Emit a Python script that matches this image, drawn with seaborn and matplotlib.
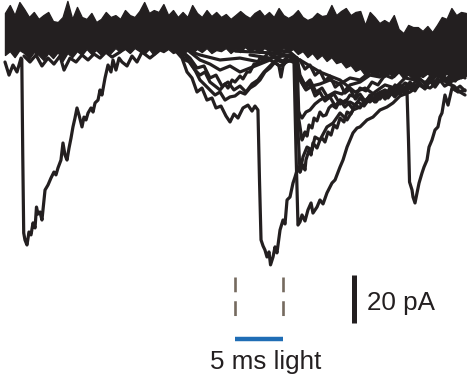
import numpy as np
import pandas as pd
import matplotlib
matplotlib.use("Agg")
import matplotlib.pyplot as plt
import seaborn as sns

# ---- data (time in ms, current in pA) ----
band_t = [i * 0.5 for i in range(97)]
band_upper = [9.2, 12.5, 8.3, 13.75, 10.8, 7.5, 9.6, 6.7, 8.3, 9.6,
              5.8, 5.4, 7.5, 14.2, 6.7, 11.7, 7.5, 6.7, 9.2, 5.4,
              6.7, 9.6, 7.5, 8.3, 6.7, 10.4, 8.3, 7.5, 10, 13.75,
              9.2, 10.4, 9.6, 12.9, 8.3, 10.4, 7.5, 9.6, 7.5, 12.5,
              9.2, 7.5, 10.4, 7.9, 9.6, 7.5, 8.75, 6.7, 8.3, 10,
              8.3, 7.1, 9.2, 10.4, 7.9, 9.6, 7.5, 11.25, 8.3, 7.1,
              8.3, 10.4, 7.5, 6.25, 7.1, 9.2, 7.9, 8.3, 12.5, 8.3,
              10, 11.25, 8.3, 9.6, 10, 4.2, 9.6, 7.5, 5, 6.25,
              5, 8.3, 2.5, 0.8, 4.2, 3.3, 3.3, 1.7, 3.75, 1.25,
              4.2, 7.5, 6.7, 11.25, 8.3, 9.6, 9.2]
band_lower = [-8.3, -6.7, -9.2, -6.25, -7.5, -10, -7.1, -8.3, -10.4, -7.5,
              -9.6, -7.1, -10.8, -7.5, -9.2, -6.7, -8.3, -5.8, -7.9, -6.25,
              -8.3, -6.7, -7.5, -5.4, -7.1, -5.8, -7.5, -5.4, -6.7, -7.9,
              -5.8, -8.3, -6.25, -7.1, -5.8, -7.5, -6.7, -8.3, -6.25, -7.5,
              -5.8, -7.1, -5.4, -7.5, -6.25, -6.7, -5.4, -7.5, -5.8, -7.1,
              -5, -6.7, -5.8, -7.5, -5.4, -6.7, -5.8, -7.5, -5.4, -7.1,
              -5.8, -7.9, -6.7, -9.2, -7.5, -10, -8.3, -10.8, -9.2, -11.7,
              -11, -13.5, -12.5, -15, -14, -16.7, -15, -17, -15.5, -17.5,
              -16, -17.5, -15.5, -18, -16.5, -18.5, -16.7, -17.5, -16, -18,
              -16.5, -18, -16, -18.3, -17, -18, -17]

trace_a_t = [0, 0.42, 0.83, 1.25, 1.67, 1.75, 1.85, 1.95, 2.08, 2.29, 2.5, 2.71, 2.92, 3.13,
             3.28, 3.44, 3.65, 3.85, 4.17, 4.48, 4.79, 5.1, 5.31, 5.52, 5.83, 6.04, 6.25,
             6.46, 6.67, 6.88, 7.08, 7.29, 7.5, 7.71, 8.02, 8.23, 8.44, 8.65, 8.96, 9.17,
             9.38, 9.69, 9.9, 10.1, 10.42, 10.73, 11.04, 11.25, 11.56, 11.88, 12.19, 12.71,
             13.23, 13.75, 14.27, 15.1, 16]
trace_a_i = [-11.25, -16.7, -12.5, -15.4, -9.6, -10, -50, -82.5, -85.4, -87.5, -82.1, -83.3,
             -78.3, -80.4, -71.7, -74.6, -73.75, -77.1, -64.6, -62.5, -59.6, -57.1, -58.3,
             -55.4, -52.1, -45, -50, -52.1, -47.1, -42.9, -38.3, -34.6, -30.4, -33.3, -38.3,
             -34.2, -35.4, -32.5, -30.4, -32.1, -28.3, -27.1, -22.9, -25, -17.9, -12.5, -15.4,
             -10.4, -14.6, -9.6, -11.25, -12.9, -8.75, -11.25, -7.1, -9.6, -6.7]

trace_c_t = [17.71, 18.44, 18.96, 19.48, 20.0, 20.52, 21.04, 21.56, 21.98, 22.5, 23.02, 23.44,
             23.85, 24.27, 24.79, 25.31, 25.73, 26.04, 26.35, 26.51, 26.67, 26.88, 27.08,
             27.29, 27.5, 27.66, 27.92, 28.13, 28.33, 28.65, 28.96, 29.17, 29.38, 29.69,
             30.0, 30.21, 30.52, 30.73, 31.04, 31.46, 31.98, 32.29, 32.81, 33.54, 34.17,
             34.9, 35.63, 36.25, 36.98, 37.71, 38.54, 39.58, 40.63, 41.67, 42.71, 43.75,
             44.79, 45.83, 46.88, 47.92]
trace_c_i = [-6.25, -9.6, -15.4, -17.9, -23.75, -22.1, -27.1, -26.25, -30.4, -29.6, -33.75,
             -36.25, -32.9, -34.6, -30.4, -29.2, -31.7, -29.6, -31.25, -60.4, -85.4, -87.9,
             -89.6, -92.5, -90.4, -95.8, -92.5, -88.3, -90.8, -81.25, -77.1, -78.75, -68.75,
             -67.5, -61.7, -59.2, -55, -57.1, -50.8, -46.7, -47.9, -42.5, -43.75, -38.3,
             -36.7, -32.5, -35.4, -31.25, -30, -27.1, -23.75, -20.8, -22.1, -17.9, -18.75,
             -15.4, -16.7, -12.9, -14.6, -12.1]

trace_d_t = [18.23, 20.31, 22.4, 24.48, 26.56, 28.13, 29.17, 30.1, 30.31, 30.52, 30.73, 30.94,
             31.25, 31.56, 31.88, 32.08, 32.5, 32.81, 33.13, 33.54, 34.06, 34.38, 34.9,
             35.21, 35.63, 35.94, 36.25, 36.67, 36.98, 37.71, 38.33, 39.06, 39.79, 40.42,
             41.15, 42.19, 43.23, 44.27, 45.31, 46.35, 47.92]
trace_d_i = [-5.4, -8.3, -10.4, -9.6, -11.25, -9.2, -11.25, -10.4, -47.9, -79.2, -77.9, -75,
             -77.5, -72.9, -70, -74.2, -71.7, -68.75, -70.4, -65.8, -61.7, -60.4, -55, -52.1,
             -46.7, -43.75, -40.8, -38.75, -38.3, -35.4, -34.2, -31.25, -30, -28.3, -25.4,
             -23.75, -20.8, -22.1, -18.75, -19.6, -17.1]

trace_e_t = [24.0, 28.0, 30.73, 32.81, 34.9, 36.46, 37.5, 38.54, 39.58, 40.63, 41.35, 41.88,
             42.03, 42.14, 42.4, 42.5, 42.71, 42.92, 43.13, 43.44, 43.65, 43.96, 44.17,
             44.48, 44.79, 45.1, 45.31, 45.52, 45.83, 46.15, 46.56, 47.19, 47.92]
trace_e_i = [-6.7, -7.5, -10.4, -15.4, -18.75, -23.75, -22.1, -25, -22.9, -25.4, -22.9, -24.2,
             -43.75, -61.25, -64.6, -67.5, -70, -65.8, -61.7, -57.5, -55, -52.1, -46.7,
             -43.75, -39.6, -38.3, -34.2, -32.5, -25, -29.2, -22.1, -23.75, -22.9]

trace_f_t = [25.52, 27.6, 29.69, 30.31, 30.52, 30.73, 31.04, 31.25, 31.35, 31.67, 31.88, 32.08,
             32.5, 32.81, 33.02, 33.33, 33.65, 33.96, 34.27, 34.58, 34.9, 35.31, 35.63,
             36.04, 36.46, 36.98, 37.5, 38.02, 38.54, 39.06, 39.58, 40.1, 40.63, 41.15,
             41.67, 42.4, 43.02, 43.65, 44.27, 44.9, 45.52, 46.15, 46.88, 47.4, 47.92]
trace_f_i = [-8.3, -9.6, -8.3, -11.25, -39.6, -57.1, -54.2, -56.25, -52.1, -47.9, -50, -45,
             -47.1, -43.75, -42.9, -44.6, -40.4, -41.7, -37.5, -38.75, -34.6, -36.25, -32.1,
             -32.9, -29.2, -30.4, -27.1, -27.9, -25.8, -26.7, -23.75, -24.6, -20.8, -22.1,
             -20, -21.25, -17.9, -19.6, -19.6, -17.1, -16.7, -18.75, -17.9, -16.25, -15.4]

trace_g_t = [27.6, 29.69, 30.42, 30.62, 30.94, 31.15, 31.25, 31.46, 31.67, 31.98, 32.19, 32.5,
             32.81, 33.13, 33.44, 33.75, 34.06, 34.48, 34.9, 35.42, 35.94, 36.46, 36.98,
             37.6, 38.23, 38.85, 39.58, 40.31, 41.15, 41.88, 42.71, 43.44, 44.27, 45.0,
             45.83, 46.88, 47.92]
trace_g_i = [-6.25, -7.1, -9.6, -35.4, -43.75, -41.7, -40.4, -42.1, -37.5, -38.75, -34.6,
             -35.8, -32.1, -33.75, -33.3, -30.4, -29.2, -30.4, -27.1, -28.3, -25, -25.8,
             -22.1, -23.3, -19.6, -20.8, -16.7, -17.9, -14.6, -15.8, -12.9, -14.2, -11.25,
             -12.9, -12.5, -11.25, -10.4]

trace_h_t = [18.23, 18.75, 19.27, 19.79, 20.31, 20.83, 21.35, 21.88, 22.4, 22.92, 23.23, 23.65,
             23.96, 24.48, 24.79, 25.21, 25.52, 25.94, 26.25, 26.56, 26.88, 27.4, 27.81, 28.65]
trace_h_i = [-7.1, -10.4, -11.25, -14.6, -16.7, -15.4, -19.6, -21.25, -22.9, -20.4, -22.1,
             -18.75, -19.6, -17.1, -18.3, -15.4, -15.4, -12.1, -12.1, -9.6, -10, -7.5, -8.75,
             -7.1]

trace_i_t = [18.75, 19.27, 19.79, 20.31, 20.83, 21.35, 21.88, 22.4, 22.92, 23.44, 23.96, 24.48,
             25.0, 25.52, 26.04, 26.56, 27.08, 27.6, 28.13, 28.54, 28.75, 28.96, 29.38, 30.0,
             30.31, 30.52, 30.73, 30.94, 31.35, 31.77, 32.29, 32.81, 33.65, 34.38, 35.1,
             35.94, 36.98, 38.02, 39.06, 40.1, 41.15, 42.19, 43.23, 44.27, 45.31, 46.35,
             47.19, 47.92]
trace_i_i = [-8.3, -11.7, -14.6, -18.75, -20.8, -22.9, -25, -23.75, -27.1, -25.8, -25.4,
             -23.75, -24.6, -22.1, -20.8, -18.75, -15.4, -13.75, -11.25, -12.9, -17.5, -12.9,
             -10.4, -11.25, -11.25, -31.25, -33.3, -34.6, -32.1, -31.25, -28.75, -27.1,
             -25.4, -23.75, -24.6, -20.8, -19.6, -16.7, -17.5, -14.6, -15.4, -12.9, -13.75,
             -14.6, -12.5, -12.1, -13.75, -12.9]

trace_j_t = [29.0, 30.73, 31.25, 31.77, 32.3, 32.81, 33.33, 33.85, 34.4, 34.9, 35.4, 35.94,
             36.5, 36.98, 37.5, 38.02, 38.5, 39.06, 39.6, 40.1, 40.6, 41.15, 41.7, 42.19,
             42.7, 43.23, 43.75, 44.27, 44.8, 45.31, 45.8, 46.35, 46.9, 47.4, 47.92]
trace_j_i = [-8.3, -10.4, -14.2, -12.5, -16.7, -15, -19.2, -17.1, -21.7, -20, -24.2, -22.5,
             -26.7, -24.6, -27.5, -25.4, -27.9, -24.2, -26.7, -23.3, -25.8, -22.5, -24.6,
             -21.3, -23.3, -20, -22.5, -19.2, -21.7, -18.8, -21.3, -20, -22.9, -21.3, -23.3]

trace_k_t = [28.5, 30.42, 30.73, 31.25, 31.77, 32.3, 32.81, 33.33, 33.85, 34.4, 34.9, 35.4,
             35.94, 36.5, 36.98, 37.5, 38.02, 38.5, 39.06, 39.6, 40.1, 40.6, 41.15, 41.7,
             42.19, 42.7, 43.23, 43.75, 44.27, 44.8, 45.31, 45.8, 46.35, 46.9, 47.4, 47.92]
trace_k_i = [-7.5, -9.6, -18.3, -22.1, -20, -25.4, -23.8, -27.5, -25.8, -29.6, -27.1, -30,
             -27.9, -29.2, -26.3, -28.3, -25, -26.7, -23.8, -25.4, -22.1, -24.2, -20.8, -22.9,
             -19.6, -21.7, -18.3, -20.4, -17.5, -19.6, -16.7, -18.8, -17.1, -19.2, -16.3,
             -17.9]

trace_l_t = [18.54, 19.27, 20.0, 20.73, 21.35, 21.98, 22.6, 23.23, 23.85, 24.48, 25.1, 25.73,
             26.35, 26.98, 27.6, 28.23, 28.85, 29.69]
trace_l_i = [-7.1, -9.6, -13.75, -12.9, -17.9, -16.7, -21.25, -19.6, -22.9, -21.25, -23.75,
             -20.4, -18.75, -15.4, -12.9, -10.4, -11.25, -8.3]

trace_m_t = [30.42, 30.73, 31.25, 31.77, 32.4, 33.02, 33.65, 34.27, 34.9, 35.52, 36.15, 36.77,
             37.4, 38.02, 38.65, 39.27, 39.9, 40.52, 41.15, 41.77, 42.4, 43.02, 43.65, 44.27,
             44.9, 45.52, 46.15, 46.77, 47.4, 47.92]
trace_m_i = [-9.6, -16.7, -20.8, -18.75, -23.75, -22.1, -26.25, -24.6, -28.75, -27.1, -30.4,
             -27.9, -29.6, -26.25, -27.9, -24.6, -26.25, -22.9, -24.6, -21.25, -22.9, -20.4,
             -22.1, -18.75, -20.4, -17.9, -20.4, -21.25, -23.75, -25]

trace_n_t = [19.27, 20.31, 21.35, 22.4, 23.44, 24.48, 25.52, 26.56, 27.6, 28.65, 29.69, 30.42,
             30.73, 31.35, 31.98, 32.81, 33.85, 34.9, 35.94, 36.98, 38.02, 39.06, 40.1, 41.15,
             42.19, 43.23, 44.27, 45.31, 46.35, 47.92]
trace_n_i = [-7.1, -10.4, -12.1, -14.6, -12.9, -15.4, -13.75, -12.1, -10.4, -12.9, -10.4,
             -11.25, -18.75, -22.9, -21.25, -20.4, -18.75, -20.4, -17.9, -18.75, -15.4, -16.7,
             -13.75, -14.6, -12.1, -12.9, -10.4, -12.1, -9.6, -10.4]

trace_o_t = [1.98, 2.6, 3.23, 3.85, 4.48, 5.1, 5.73, 6.15, 6.77, 7.4, 8.02, 8.65, 9.27, 9.9,
             10.52, 11.15, 11.98]
trace_o_i = [-8.75, -11.25, -8.3, -12.9, -9.6, -12.1, -8.75, -14.6, -9.6, -11.25, -8.3, -10.4,
             -7.9, -9.6, -7.1, -9.2, -7.1]

light_on_ms = 24.0
light_off_ms = 29.0
light_label = "5 ms light"
scale_pA = 20
scale_label = "20 pA"

# ---- build long table ----
traces = {
    "A": (trace_a_t, trace_a_i), "C": (trace_c_t, trace_c_i), "D": (trace_d_t, trace_d_i),
    "E": (trace_e_t, trace_e_i), "F": (trace_f_t, trace_f_i), "G": (trace_g_t, trace_g_i),
    "H": (trace_h_t, trace_h_i), "I": (trace_i_t, trace_i_i), "J": (trace_j_t, trace_j_i),
    "K": (trace_k_t, trace_k_i), "L": (trace_l_t, trace_l_i), "M": (trace_m_t, trace_m_i),
    "N": (trace_n_t, trace_n_i), "O": (trace_o_t, trace_o_i),
}
rows = []
for name, (tt, ii) in traces.items():
    for a, b in zip(tt, ii):
        rows.append({"trace": name, "t": a, "I": b})
df = pd.DataFrame(rows)

sns.set_style("white")
plt.rcParams["font.family"] = ["Liberation Sans", "DejaVu Sans"]

ink = "#231f20"
fig = plt.figure(figsize=(4.68, 3.81), dpi=100)
ax = fig.add_axes([0, 0, 1, 1])

ax.fill_between(band_t, band_lower, band_upper, color=ink, lw=1.0, edgecolor=ink)
sns.lineplot(data=df, x="t", y="I", units="trace", estimator=None, sort=False,
             color=ink, lw=2.3, ax=ax, legend=False)

# light stimulus markers
dash_top, dash_bot = -100.8, -120.0
for tx in (light_on_ms, light_off_ms):
    ax.plot([tx, tx], [dash_top, dash_bot], color="#756a5f", lw=1.9,
            linestyle=(0, (5.6, 3.4)))
ax.plot([light_on_ms, light_off_ms], [-126.7, -126.7], color="#1f6db5", lw=3.2,
        solid_capstyle="butt")
ax.text((light_on_ms + light_off_ms) / 2 + 0.7, -139.2, light_label, ha="center",
        va="baseline", fontsize=18.7, color=ink)

# scale bar
ax.plot([36.4, 36.4], [-100, -100 - scale_pA], color=ink, lw=3.6, solid_capstyle="butt")
ax.text(37.7, -114.6, scale_label, ha="left", va="baseline", fontsize=18.7, color=ink)

ax.set_xlim(-0.52, 48.23)
ax.set_ylim(-144.2, 14.6)
ax.axis("off")
fig.savefig("out.png", dpi=100)
